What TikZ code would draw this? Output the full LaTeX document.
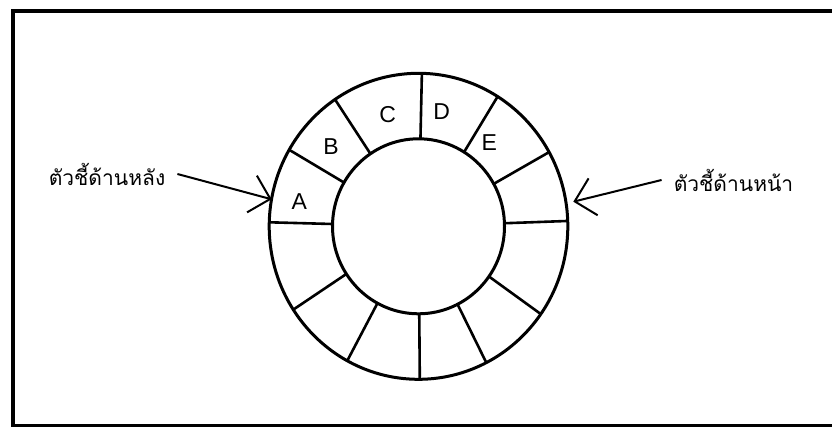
\documentclass[tikz,border=0pt]{standalone}
\usepackage{fontspec}
\setmainfont{Liberation Sans}
\newfontfamily\thaifont[Script=Thai]{Loma}
\usetikzlibrary{arrows.meta,calc}
\tikzset{
  ringline/.style={line width=3pt},
  divline/.style={line width=2.6pt},
  frameline/.style={line width=4pt},
  ptr/.style={line width=2pt,-{Straight Barb[length=19pt,width=38pt,line width=2pt]}},
  thailbl/.style={font=\thaifont\fontsize{21}{25}\selectfont,inner xsep=12pt,inner ysep=2pt},
  cell/.style={font=\fontsize{23}{26}\selectfont,inner sep=0pt}
}
\begin{document}
\begin{tikzpicture}[x=1pt,y=-1pt]
\useasboundingbox (0,0) rectangle (832,427);
\fill[white] (0,0) rectangle (832,427);
% frame
\draw[frameline] (845,11) -- (12.5,11) -- (12.5,425.5) -- (845,425.5);
% ring
\coordinate (c) at (418.5,226.3);
\draw[ringline] (c) ellipse [x radius=149.3, y radius=153];
\draw[ringline] (c) ellipse [x radius=86, y radius=87.5];
\foreach \a in {-2,35,63,89.5,118.5,147,181.5,210,236,271.3,302,331}{
  \draw[divline] ($(c)+(\a:86 and 87.5)$) -- ($(c)+(\a:149.3 and 153)$);
}
% cell letters
\node[cell] (la) at (299.3,201.7) {A};
\node[cell] (lb) at (331,146.7) {B};
\node[cell] (lc) at (387.7,115) {C};
\node[cell] (ld) at (441.7,111.7) {D};
\node[cell] (le) at (489.3,142.7) {E};
% labels
\node[thailbl] (rear) at (107,174) {ตัวชี้ด้านหลัง};
\node[thailbl] (front) at (733.5,180) {ตัวชี้ด้านหน้า};
\coordinate (reartip) at (271.7,199.3);
\coordinate (fronttip) at (573.3,201.7);
\draw[ptr] (rear.east) -- (reartip);
\draw[ptr] (front.west) -- (fronttip);
\end{tikzpicture}
\end{document}
